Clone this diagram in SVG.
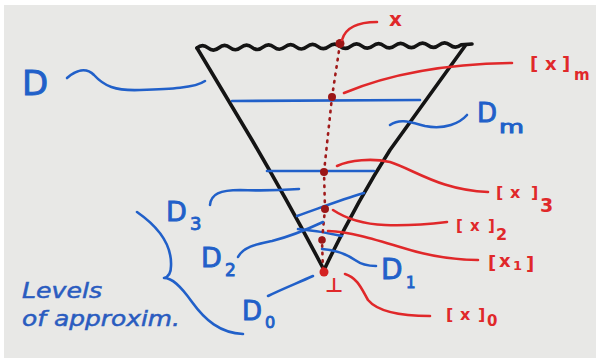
<svg xmlns="http://www.w3.org/2000/svg" width="600" height="358" viewBox="0 0 600 358">
<style>
.blk{fill:none;stroke:#141414;stroke-width:3.6;stroke-linecap:round;stroke-linejoin:round}
.blu{fill:none;stroke:#2160c9;stroke-width:2.6;stroke-linecap:round;stroke-linejoin:round}
.red{fill:none;stroke:#e0282a;stroke-width:2.6;stroke-linecap:round;stroke-linejoin:round}
.dot{fill:#9c1616}
.dash{fill:none;stroke:#a01a1a;stroke-width:2.6;stroke-linecap:round;stroke-dasharray:1.5 6}
.tb{fill:#2160c9;stroke:#2160c9;stroke-width:0.9;font-family:"DejaVu Sans",sans-serif}
.tr{fill:#e0282a;font-family:"DejaVu Sans",sans-serif;font-weight:bold}
.hand{fill:#2a5cc0;stroke:#2a5cc0;stroke-width:0.5;font-family:"DejaVu Sans",sans-serif;font-style:italic}
</style>
<rect x="0" y="0" width="600" height="358" fill="#ffffff"/>
<rect x="4" y="5" width="592" height="353" fill="#e8e8e6"/>

<g id="funnel">
<path class="blk" d="M197,48 Q202.5,43.5 208,47.87 t11,-0.13 t11,-0.13 t11,-0.13 t11,-0.13 t11,-0.13 t11,-0.13 t11,-0.13 t11,-0.13 t11,-0.13 t11,-0.13 t11,-0.13 t11,-0.13 t11,-0.13 t11,-0.13 t11,-0.13 t11,-0.13 t11,-0.13 t11,-0.13 t11,-0.13 t11,-0.13 t11,-0.13 t11,-0.13 t11,-0.13 L472,44"/>
<path class="blk" d="M197,48 L252,140 Q290,205 323,268"/>
<path class="blk" d="M465,46 L390,150 Q355,205 325,268"/>
</g>

<g id="levels">
<path class="blu" d="M232,101 L420,100"/>
<path class="blu" d="M267,171 L374,171"/>
<path class="blu" d="M297,216 C 320,208 340,200 364,193"/>
<path class="blu" d="M298,229 C 310,230 325,232 342,236"/>
</g>

<g id="element-path">
<path class="dash" d="M340,44 L332,97 L324,172 L325,209 L322,240 L323,272"/>
<circle class="dot" cx="340" cy="43.5" r="4.5"/>
<circle class="dot" cx="332" cy="97" r="4"/>
<circle class="dot" cx="324" cy="172" r="4"/>
<circle class="dot" cx="325" cy="209" r="4"/>
<circle class="dot" cx="322" cy="240" r="3.8"/>
<circle cx="324" cy="272" r="4.5" fill="#d42222"/>
</g>

<g id="connectors">
<path class="blu" d="M67,78 C 76,70 86,67 94,75 C 104,86 115,91 140,90 C 170,89 195,88 205,81"/>
<path class="blu" d="M390,125 C 400,118 410,122 425,126 C 445,130 460,123 467,115"/>
<path class="blu" d="M210,205 C 211,194 220,190 240,190 C 265,191 285,190 299,189"/>
<path class="blu" d="M238,257 C 244,246 258,244 272,241 C 292,236 308,229 323,222"/>
<path class="blu" d="M322,249 C 335,250 345,253 355,260 C 362,265 370,266 376,266"/>
<path class="blu" d="M268,296 C 280,290 295,284 313,276"/>
<path class="blu" d="M137,212 C 160,228 172,245 171,266 C 171,273 168,277 164,278 C 172,278 180,285 192,302 C 205,320 220,333 243,334"/>
<path class="red" d="M342,40 C 345,29 355,22 377,22"/>
<path class="red" d="M344,93 C 380,78 430,64 512,63"/>
<path class="red" d="M337,166 C 350,160 372,158 390,162 C 415,170 440,190 488,192"/>
<path class="red" d="M333,210 C 345,218 360,224 385,225 C 410,226 430,224 447,222"/>
<path class="red" d="M328,231 C 350,232 370,238 400,247 C 425,255 450,260 478,260"/>
<path class="red" d="M345,274 C 358,278 362,290 368,300 C 378,312 400,316 430,316"/>
</g>

<g id="label-D"><text class="tb" x="22" y="95" font-size="34">D</text></g>
<g id="label-x"><text class="tr" x="389" y="26" font-size="20">x</text></g>
<g id="label-xm"><text class="tr" font-size="18"><tspan x="530" y="70">[</tspan><tspan x="545" y="70">x</tspan><tspan x="562" y="70">]</tspan><tspan x="574" y="80" font-size="15">m</tspan></text></g>
<g id="label-Dm"><text class="tb" font-size="26"><tspan x="477" y="122">D</tspan><tspan x="499" y="133" font-size="18" textLength="25" lengthAdjust="spacingAndGlyphs">m</tspan></text></g>
<g id="label-x3"><text class="tr" font-size="16"><tspan x="496" y="198">[</tspan><tspan x="510" y="198">x</tspan><tspan x="531" y="198">]</tspan><tspan x="540" y="212" font-size="19">3</tspan></text></g>
<g id="label-D3"><text class="tb" font-size="27"><tspan x="166" y="221">D</tspan><tspan x="190" y="230" font-size="18">3</tspan></text></g>
<g id="label-x2"><text class="tr" font-size="15"><tspan x="456" y="231">[</tspan><tspan x="470" y="231">x</tspan><tspan x="488" y="231">]</tspan><tspan x="496" y="240" font-size="16">2</tspan></text></g>
<g id="label-D2"><text class="tb" font-size="27"><tspan x="201" y="267">D</tspan><tspan x="225" y="276" font-size="17">2</tspan></text></g>
<g id="label-x1"><text class="tr" font-size="18"><tspan x="488" y="269">[</tspan><tspan x="499" y="267">x</tspan><tspan x="513" y="270" font-size="13">1</tspan><tspan x="526" y="270">]</tspan></text></g>
<g id="label-D1"><text class="tb" font-size="28"><tspan x="381" y="279">D</tspan><tspan x="406" y="288" font-size="15">1</tspan></text></g>
<g id="label-D0"><text class="tb" font-size="26"><tspan x="242" y="320">D</tspan><tspan x="265" y="328" font-size="16">0</tspan></text></g>
<g id="label-x0"><text class="tr" font-size="16"><tspan x="446" y="320">[</tspan><tspan x="460" y="320">x</tspan><tspan x="478" y="320">]</tspan><tspan x="487" y="326" font-size="15">0</tspan></text></g>
<g id="label-bottom"><text class="tr" x="334" y="292" font-size="20" text-anchor="middle">⊥</text></g>
<g id="label-levels">
<text class="hand" x="22" y="298" font-size="21" textLength="80" lengthAdjust="spacingAndGlyphs">Levels</text>
<text class="hand" x="22" y="326" font-size="21" textLength="158" lengthAdjust="spacingAndGlyphs">of approxim.</text>
</g>
</svg>
